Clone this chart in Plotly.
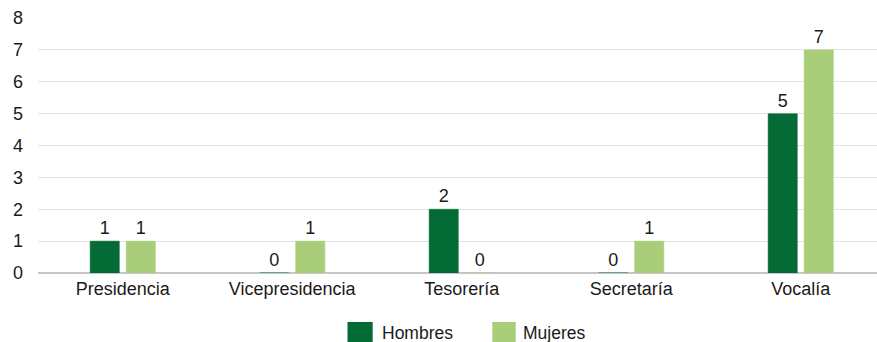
import plotly.graph_objects as go

categories = ["Presidencia", "Vicepresidencia", "Tesorería", "Secretaría", "Vocalía"]
hombres = [1, 0, 2, 0, 5]
mujeres = [1, 1, 0, 1, 7]
y_ticks = [0, 1, 2, 3, 4, 5, 6, 7, 8]
series_names = ["Hombres", "Mujeres"]

DARK = "#046a36"
LIGHT = "#a9cd78"
FONT = "Liberation Sans, Arial, sans-serif"
TEXT = "#1a1a1a"

fig = go.Figure()
for name, vals, col in [(series_names[0], hombres, DARK), (series_names[1], mujeres, LIGHT)]:
    fig.add_trace(go.Bar(
        x=categories, y=vals, name=name,
        marker=dict(color=col, line=dict(color=col, width=0.5)),
        text=vals, textposition="outside", cliponaxis=False,
        textfont=dict(size=18, color=TEXT, family=FONT),
        showlegend=False,
    ))

# Legend drawn below the plot: colour box plus label for each series
legend_items = [
    (series_names[0], DARK, 0.3689, 0.3989, 0.4076),
    (series_names[1], LIGHT, 0.5415, 0.5694, 0.5757),
]
for name, col, bx0, bx1, tx in legend_items:
    fig.add_shape(type="rect", xref="paper", yref="paper",
                  x0=bx0, x1=bx1, y0=-0.275, y1=-0.192,
                  fillcolor=col, line=dict(width=0))
    fig.add_annotation(xref="paper", yref="paper", x=tx, y=-0.234,
                       xanchor="left", yanchor="middle", showarrow=False,
                       text=name, font=dict(size=17.5, family=FONT, color=TEXT))

fig.update_layout(
    width=877, height=342,
    margin=dict(l=38, r=0, t=18, b=69, autoexpand=False),
    paper_bgcolor="white", plot_bgcolor="white",
    barmode="group", bargap=0.575, bargroupgap=0.19,
    font=dict(family=FONT, size=18, color=TEXT),
    showlegend=False,
    xaxis=dict(
        range=[-0.5, 4.45], showgrid=False, showline=False, ticks="",
        ticklabelstandoff=3,
        tickfont=dict(size=18, family=FONT, color=TEXT),
    ),
    yaxis=dict(
        range=[0, 8], tickvals=y_ticks, showgrid=True, gridcolor="#e3e3e3", gridwidth=1,
        zeroline=True, zerolinecolor="#c6c6c6", zerolinewidth=2,
        showline=False, ticks="", ticklabelstandoff=14,
        tickfont=dict(size=18, family=FONT, color=TEXT),
    ),
)

fig.write_html("out.html")
